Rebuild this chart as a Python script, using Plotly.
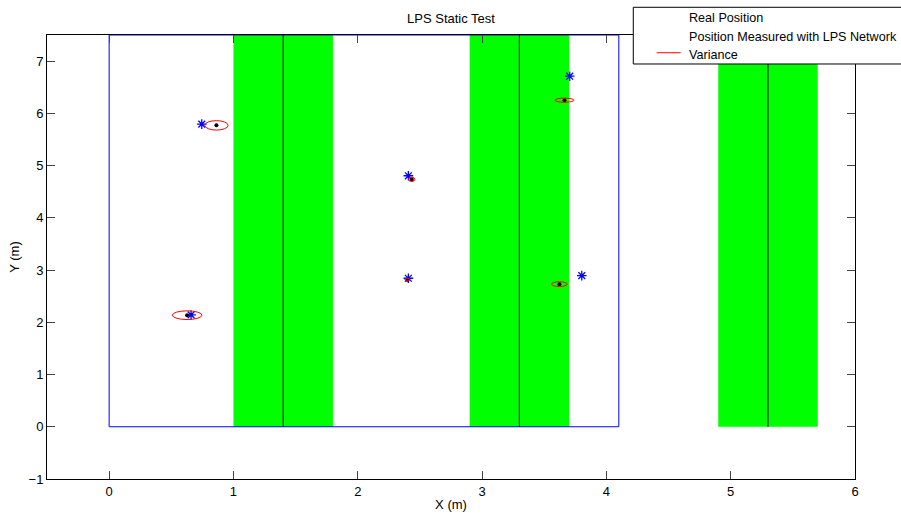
import plotly.graph_objects as go

# ---- data ----
real_x = [0.863, 2.434, 2.399, 0.627, 3.663, 3.622]
real_y = [5.770, 4.736, 2.816, 2.136, 6.252, 2.730]
meas_x = [0.745, 2.407, 2.407, 0.659, 3.705, 3.802]
meas_y = [5.793, 4.805, 2.843, 2.141, 6.711, 2.893]
var_x = [0.094, 0.025, 0.020, 0.119, 0.076, 0.063]
var_y = [0.090, 0.040, 0.025, 0.083, 0.040, 0.045]

zone_start = [1.0, 2.9, 4.9]
zone_end = [1.8, 3.7, 5.7]
zone_center = [1.4, 3.3, 5.3]
zone_bottom = 0.0
zone_top = 7.5

room_x = [0, 4.1, 4.1, 0, 0]
room_y = [7.5, 7.5, 0, 0, 7.5]

x_ticks = [0, 1, 2, 3, 4, 5, 6]
y_ticks = [-1, 0, 1, 2, 3, 4, 5, 6, 7]
x_range = [-0.5, 6]
y_range = [-1, 7.5]

FONT = "Liberation Sans, Arial, sans-serif"
FS = 13

fig = go.Figure()

shapes = []
for s, e in zip(zone_start, zone_end):
    shapes.append(dict(type="rect", xref="x", yref="y", x0=s, x1=e,
                       y0=zone_bottom, y1=zone_top, fillcolor="#00ff00",
                       line=dict(width=0), layer="below"))

for c in zone_center:
    fig.add_trace(go.Scatter(x=[c, c], y=[zone_bottom, zone_top], mode="lines",
                             line=dict(color="black", width=1),
                             showlegend=False, hoverinfo="skip"))

fig.add_trace(go.Scatter(x=room_x, y=room_y, mode="lines",
                         line=dict(color="blue", width=1),
                         showlegend=False, hoverinfo="skip"))

# variance ellipses
for cx, cy, sx, sy in zip(real_x, real_y, var_x, var_y):
    shapes.append(dict(type="circle", xref="x", yref="y",
                       x0=cx - sx, x1=cx + sx, y0=cy - sy, y1=cy + sy,
                       line=dict(color="red", width=1), layer="above"))

fig.add_trace(go.Scatter(x=meas_x, y=meas_y, mode="markers",
                         marker=dict(symbol="asterisk-open", size=8, color="blue",
                                     line=dict(color="blue", width=1.3)),
                         name="Position Measured with LPS Network",
                         showlegend=False))
fig.add_trace(go.Scatter(x=real_x, y=real_y, mode="markers",
                         marker=dict(symbol="circle", size=4, color="black"),
                         name="Real Position", showlegend=False))

# manual legend (box runs off the right edge as in the original)
shapes.append(dict(type="rect", xref="paper", yref="paper",
                   x0=0.7256, x1=1.12, y0=0.9347, y1=1.0624,
                   fillcolor="white", line=dict(color="black", width=1),
                   layer="above"))
shapes.append(dict(type="line", xref="paper", yref="paper",
                   x0=0.7546, x1=0.7843, y0=0.960, y1=0.960,
                   line=dict(color="red", width=1), layer="above"))

legend_labels = ["Real Position", "Position Measured with LPS Network", "Variance"]
legend_y = [1.0376, 0.9962, 0.955]
annotations = []
for lab, ly in zip(legend_labels, legend_y):
    annotations.append(dict(text=lab, xref="paper", yref="paper", x=0.7917, y=ly,
                            xanchor="left", yanchor="middle", showarrow=False,
                            font=dict(family=FONT, size=12.6, color="black")))

axis_common = dict(ticks="inside", ticklen=8, tickcolor="#444", mirror="ticks",
                   showline=True, linecolor="black", linewidth=1, showgrid=False,
                   zeroline=False, automargin=False,
                   tickfont=dict(family=FONT, size=FS, color="black"))

fig.update_layout(
    width=901, height=517,
    margin=dict(l=47, r=46, t=35, b=38, autoexpand=False),
    paper_bgcolor="white", plot_bgcolor="white",
    title=dict(text="LPS Static Test", x=0.5, xref="paper", y=1 - 18 / 517,
               yref="container", xanchor="center", yanchor="middle",
               font=dict(family=FONT, size=FS, color="black")),
    xaxis=dict(range=x_range, tickvals=x_ticks,
               title=dict(text="X (m)", standoff=2,
                          font=dict(family=FONT, size=FS, color="black")),
               **axis_common),
    yaxis=dict(range=y_range, tickvals=y_ticks,
               title=dict(text="Y (m)", standoff=6,
                          font=dict(family=FONT, size=FS, color="black")),
               **axis_common),
    shapes=shapes,
    annotations=annotations,
    showlegend=False,
)

fig.write_html("out.html", config={"displayModeBar": False},
               post_script="document.body.style.margin='0';document.body.style.overflow='hidden';")
